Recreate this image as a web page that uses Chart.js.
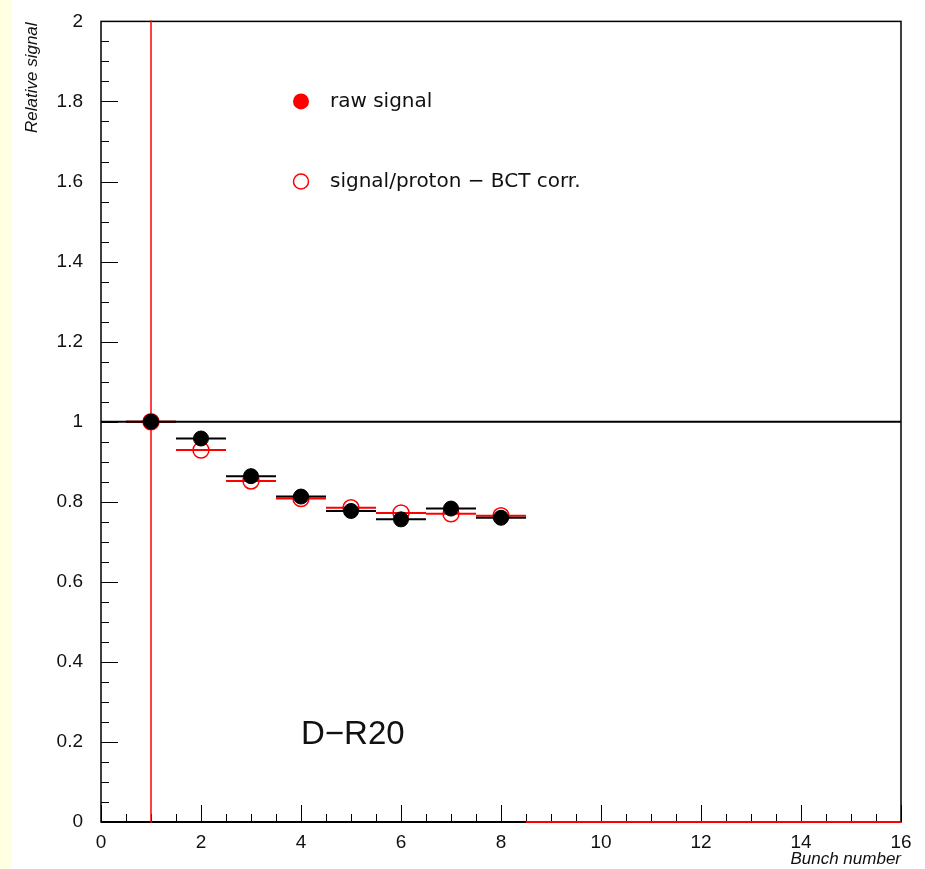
<!DOCTYPE html>
<html>
<head>
<meta charset="utf-8">
<script src="https://cdn.jsdelivr.net/npm/chart.js@4"></script>
<style>
body { margin:0; background:#fff; }
#wrap { position:relative; width:925px; height:869px; }
</style>
</head>
<body>
<div id="wrap"><canvas id="BunchChart" width="925" height="869"></canvas></div>
<script>
// bunch numbers 1..16
const BUNCHES = [1, 2, 3, 4, 5, 6, 7, 8, 9, 10, 11, 12, 13, 14, 15, 16];
// raw signal only filled for the first 8 bunches
const RAW_SIGNAL = [1.0, 0.958, 0.864, 0.813, 0.777, 0.756, 0.783, 0.760];
const RAW_SIGNAL_ERR = [0, 0, 0, 0, 0, 0, 0, 0];
const BCT_CORR = [1.0, 0.929, 0.852, 0.808, 0.785, 0.772, 0.770, 0.765, 0, 0, 0, 0, 0, 0, 0, 0];
const BCT_CORR_ERR = [1.5, 0, 0, 0, 0, 0, 0, 0, 0, 0, 0, 0, 0, 0, 0, 0];
const BIN_HALF_WIDTH = 0.5;
const REFERENCE_LEVEL = 1;

const X_RANGE = [0, 16];
const Y_RANGE = [0, 2];
const X_TITLE = 'Bunch number';
const Y_TITLE = 'Relative signal';
const PLOT_LABEL = 'D\u2212R20';
const LEGEND_RAW = 'raw signal';
const LEGEND_CORR = 'signal/proton \u2212 BCT corr.';

function toPoints(xs, ys) {
    return ys.map((v, i) => ({x: xs[i], y: v}));
}

const errorBars = {
    id: 'errorBars',
    beforeDatasetDraw(chart, args) {
        const ds = chart.data.datasets[args.index];
        if (!ds.errY) return;
        const {ctx, chartArea: a, scales: {x, y}} = chart;
        ctx.save();
        ctx.beginPath();
        ctx.rect(a.left, a.top - 1, a.right - a.left, a.bottom - a.top + 2);
        ctx.clip();
        ctx.strokeStyle = ds.barColor;
        ds.data.forEach((p, i) => {
            const px = x.getPixelForValue(p.x);
            const py = y.getPixelForValue(p.y);
            ctx.lineWidth = 2;
            ctx.beginPath();
            ctx.moveTo(x.getPixelForValue(p.x - BIN_HALF_WIDTH), py);
            ctx.lineTo(x.getPixelForValue(p.x + BIN_HALF_WIDTH), py);
            ctx.stroke();
            const e = ds.errY[i];
            if (e > 0) {
                ctx.lineWidth = 1.5;
                ctx.beginPath();
                ctx.moveTo(px, y.getPixelForValue(p.y - e));
                ctx.lineTo(px, y.getPixelForValue(p.y + e));
                ctx.stroke();
            }
        });
        ctx.restore();
    }
};

const frameAndTicks = {
    id: 'frameAndTicks',
    beforeDraw(chart) {
        const ctx = chart.ctx;
        ctx.save();
        ctx.fillStyle = '#ffffe4';
        ctx.fillRect(0, 0, 12, chart.height);
        ctx.restore();
    },
    beforeDatasetsDraw(chart) {
        const {ctx, chartArea: a, scales: {x, y}} = chart;
        ctx.save();
        ctx.strokeStyle = '#000';
        ctx.lineWidth = 1;
        // y ticks (inward)
        for (let v = Y_RANGE[0]; v <= Y_RANGE[1] + 1e-9; v += 0.05) {
            const py = Math.round(y.getPixelForValue(v)) + 0.5;
            const major = Math.abs(v / 0.2 - Math.round(v / 0.2)) < 1e-6;
            ctx.beginPath();
            ctx.moveTo(a.left, py);
            ctx.lineTo(a.left + (major ? 17 : 8), py);
            ctx.stroke();
        }
        // x ticks (inward)
        for (let v = X_RANGE[0]; v <= X_RANGE[1] + 1e-9; v += 0.5) {
            const px = Math.round(x.getPixelForValue(v)) + 0.5;
            const major = Math.abs(v / 2 - Math.round(v / 2)) < 1e-6;
            ctx.beginPath();
            ctx.moveTo(px, a.bottom);
            ctx.lineTo(px, a.bottom - (major ? 17 : 8));
            ctx.stroke();
        }
        // frame
        ctx.lineWidth = 1.5;
        ctx.strokeRect(a.left, a.top, a.right - a.left, a.bottom - a.top);
        ctx.lineWidth = 2;
        ctx.beginPath();
        ctx.moveTo(a.left, a.bottom);
        ctx.lineTo(a.right, a.bottom);
        ctx.stroke();
        ctx.restore();
    },
    afterDraw(chart) {
        const {ctx, chartArea: a, scales: {x, y}} = chart;
        ctx.save();
        ctx.fillStyle = '#111';
        // axis titles
        ctx.font = 'italic 17px "Liberation Sans", Arial, sans-serif';
        ctx.textAlign = 'right';
        ctx.textBaseline = 'middle';
        ctx.fillText(X_TITLE, a.right, 859);
        ctx.save();
        ctx.translate(32, a.top + 1);
        ctx.rotate(-Math.PI / 2);
        ctx.textAlign = 'right';
        ctx.fillText(Y_TITLE, 0, 0);
        ctx.restore();

        // legend
        const lx = x.getPixelForValue(4);
        const tx = x.getPixelForValue(4.58);
        const y1 = y.getPixelForValue(1.8);
        const y2 = y.getPixelForValue(1.6);
        ctx.fillStyle = '#ff0000';
        ctx.beginPath();
        ctx.arc(lx, y1, 8, 0, Math.PI * 2);
        ctx.fill();
        ctx.strokeStyle = '#ff0000';
        ctx.lineWidth = 1.5;
        ctx.beginPath();
        ctx.arc(lx, y2, 7.5, 0, Math.PI * 2);
        ctx.stroke();
        ctx.fillStyle = '#111';
        ctx.font = '20px "DejaVu Sans", sans-serif';
        ctx.textAlign = 'left';
        ctx.textBaseline = 'middle';
        ctx.fillText(LEGEND_RAW, tx, y1);
        ctx.fillText(LEGEND_CORR, tx, y2);

        // plot label
        ctx.font = '33px "Liberation Sans", Arial, sans-serif';
        ctx.textBaseline = 'alphabetic';
        ctx.fillText(PLOT_LABEL, x.getPixelForValue(4), y.getPixelForValue(0.2) + 2);
        ctx.restore();
    }
};

window.onload = function () {
    let ctx = document.getElementById('BunchChart').getContext('2d');

    window.BChart = new Chart(ctx, {
        type: 'scatter',
        data: {
            datasets: [
                {
                    label: LEGEND_RAW,
                    data: toPoints(BUNCHES, RAW_SIGNAL),
                    errY: RAW_SIGNAL_ERR,
                    barColor: '#000000',
                    borderColor: '#000000',
                    backgroundColor: '#000000',
                    borderWidth: 1,
                    pointRadius: c => (c.raw && c.raw.y === 0 ? 0 : 7.5),
                    order: 1,
                },
                {
                    label: LEGEND_CORR,
                    data: toPoints(BUNCHES, BCT_CORR),
                    errY: BCT_CORR_ERR,
                    barColor: '#ff0000',
                    borderColor: '#ff0000',
                    backgroundColor: 'rgba(0,0,0,0)',
                    borderWidth: 1.5,
                    pointRadius: c => (c.raw && c.raw.y === 0 ? 0 : 8),
                    order: 2,
                },
                {
                    type: 'line',
                    label: 'reference',
                    data: [{x: X_RANGE[0], y: REFERENCE_LEVEL}, {x: X_RANGE[1], y: REFERENCE_LEVEL}],
                    borderColor: '#000000',
                    borderWidth: 2,
                    pointRadius: 0,
                    order: 3,
                }
            ]
        },
        options: {
            responsive: false,
            animation: false,
            devicePixelRatio: 1,
            layout: {
                padding: {left: 0, right: 24, top: 21, bottom: 0}
            },
            plugins: {
                legend: {display: false},
                tooltip: {enabled: false}
            },
            scales: {
                x: {
                    type: 'linear',
                    min: X_RANGE[0],
                    max: X_RANGE[1],
                    grid: {display: false},
                    border: {display: false},
                    afterFit: s => { s.height = 47; },
                    ticks: {
                        stepSize: 2,
                        padding: 1,
                        color: '#111',
                        font: {family: '"Liberation Sans", Arial, sans-serif', size: 19},
                        maxRotation: 0,
                        minRotation: 0,
                        callback: v => String(v)
                    }
                },
                y: {
                    min: Y_RANGE[0],
                    max: Y_RANGE[1],
                    grid: {display: false},
                    border: {display: false},
                    afterFit: s => { s.width = 101; },
                    ticks: {
                        stepSize: 0.2,
                        padding: 10,
                        color: '#111',
                        font: {family: '"Liberation Sans", Arial, sans-serif', size: 19},
                        callback: v => String(Number(v.toFixed(1)))
                    }
                }
            }
        },
        plugins: [errorBars, frameAndTicks]
    });
};
</script>
</body>
</html>
